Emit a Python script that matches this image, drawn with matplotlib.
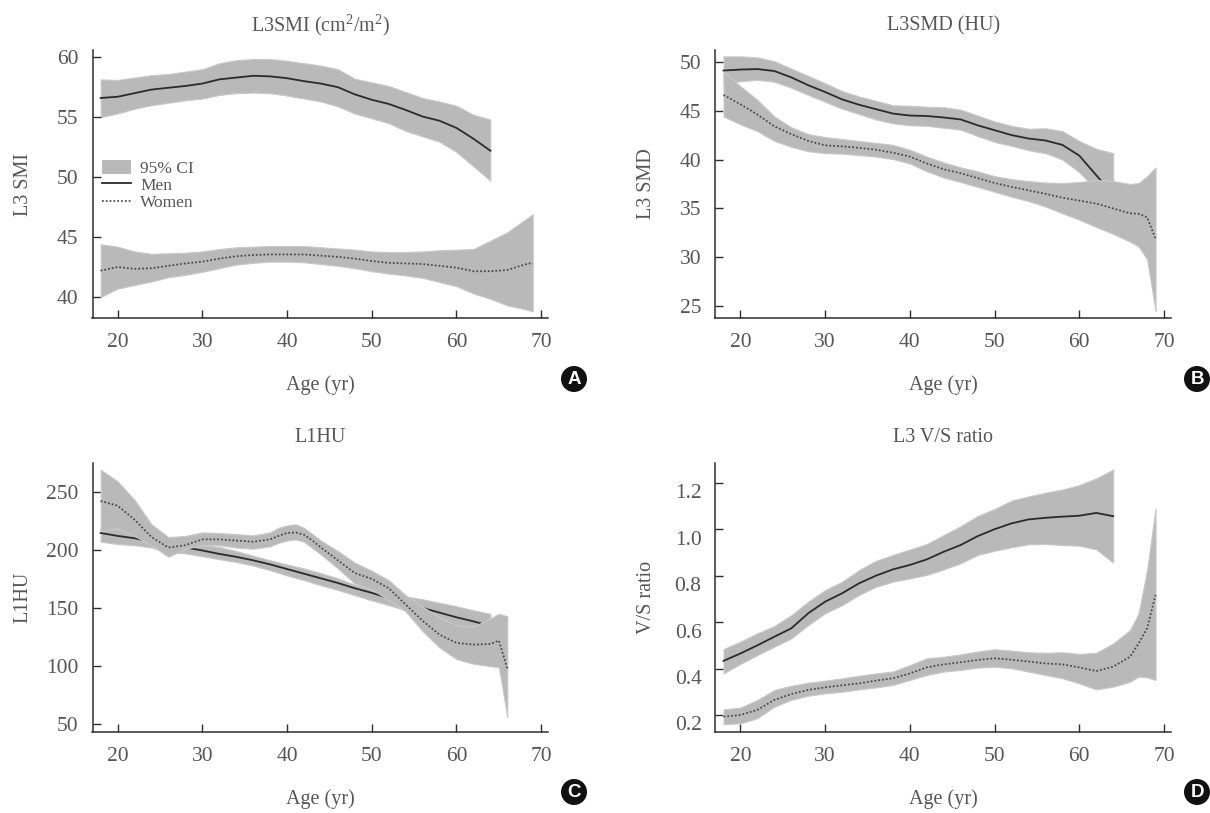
import matplotlib
matplotlib.use("Agg")
import matplotlib.pyplot as plt
from matplotlib.patches import Patch
from matplotlib.lines import Line2D
from matplotlib.transforms import ScaledTranslation

plt.rcParams['font.family'] = ['Liberation Serif', 'DejaVu Serif']

W, H = 1210, 813
BAND = '#b9b9b9'
EDGE = '#c9c9c9'
INK = '#565656'
AXC = '#2e2e2e'

# ages shared by the men's curves
age_men = [18, 20, 22, 24, 26, 28, 30, 32, 34, 36, 38, 40, 42, 44, 46, 48, 50, 52, 54, 56, 58, 60, 62, 64]

# A: L3SMI
a_age_w = [18, 20, 22, 24, 26, 28, 30, 32, 34, 36, 38, 40, 42, 44, 46, 48, 50, 52, 54, 56, 58, 60, 62, 64, 66, 68, 69]
a_men = [56.6, 56.7, 57.0, 57.3, 57.45, 57.6, 57.8, 58.15, 58.3, 58.45, 58.4, 58.25, 58.0, 57.8, 57.5, 56.9, 56.45, 56.1, 55.6, 55.05, 54.7, 54.1, 53.2, 52.2]
a_men_hi = [58.15, 58.1, 58.3, 58.5, 58.6, 58.8, 59.0, 59.5, 59.75, 59.85, 59.85, 59.7, 59.5, 59.3, 59.0, 58.2, 57.9, 57.6, 57.1, 56.6, 56.3, 55.95, 55.2, 54.8]
a_men_lo = [55.0, 55.3, 55.7, 56.0, 56.2, 56.4, 56.55, 56.85, 57.0, 57.05, 57.0, 56.8, 56.55, 56.3, 55.9, 55.3, 54.9, 54.5, 53.85, 53.4, 52.95, 52.1, 50.9, 49.7]
a_wom = [42.2, 42.5, 42.35, 42.4, 42.6, 42.8, 42.95, 43.2, 43.4, 43.5, 43.55, 43.55, 43.55, 43.45, 43.35, 43.2, 43.0, 42.85, 42.8, 42.75, 42.6, 42.45, 42.15, 42.15, 42.25, 42.7, 42.85]
a_wom_hi = [44.4, 44.2, 43.8, 43.6, 43.65, 43.7, 43.8, 44.0, 44.15, 44.2, 44.25, 44.25, 44.25, 44.15, 44.05, 43.95, 43.8, 43.75, 43.75, 43.8, 43.9, 43.95, 44.0, 44.7, 45.4, 46.4, 46.9]
a_wom_lo = [40.0, 40.7, 41.0, 41.3, 41.65, 41.85, 42.1, 42.4, 42.7, 42.85, 42.95, 42.95, 42.9, 42.75, 42.6, 42.4, 42.15, 41.95, 41.8, 41.6, 41.25, 40.9, 40.3, 39.85, 39.3, 39.0, 38.8]

# B: L3SMD
b_age_w = [18, 20, 22, 24, 26, 28, 30, 32, 34, 36, 38, 40, 42, 44, 46, 48, 50, 52, 54, 56, 58, 60, 62, 64, 66, 67, 68, 69]
b_men = [49.1, 49.2, 49.25, 49.05, 48.4, 47.6, 46.9, 46.15, 45.6, 45.15, 44.7, 44.5, 44.45, 44.3, 44.1, 43.5, 43.0, 42.5, 42.15, 41.95, 41.5, 40.4, 38.4, 36.4]
b_men_hi = [50.55, 50.55, 50.45, 50.05, 49.3, 48.55, 47.8, 47.0, 46.45, 46.0, 45.55, 45.5, 45.4, 45.35, 45.1, 44.5, 43.9, 43.45, 43.15, 43.2, 42.9, 41.9, 41.1, 40.65]
b_men_lo = [47.8, 48.0, 48.15, 47.95, 47.35, 46.6, 45.9, 45.2, 44.65, 44.1, 43.7, 43.5, 43.45, 43.25, 43.05, 42.4, 41.8, 41.4, 40.95, 40.65, 40.0, 38.7, 36.9, 35.5]
b_wom = [46.6, 45.65, 44.6, 43.4, 42.6, 41.9, 41.45, 41.35, 41.2, 41.0, 40.7, 40.3, 39.6, 39.0, 38.6, 38.1, 37.6, 37.2, 36.85, 36.5, 36.1, 35.8, 35.5, 35.0, 34.5, 34.45, 34.1, 31.9]
b_wom_hi = [49.0, 47.5, 46.1, 44.4, 43.3, 42.6, 42.3, 42.1, 41.9, 41.7, 41.5, 41.0, 40.3, 39.7, 39.2, 38.8, 38.3, 38.0, 37.8, 37.65, 37.6, 37.7, 37.9, 37.8, 37.5, 37.6, 38.3, 39.2]
b_wom_lo = [44.4, 43.6, 42.9, 41.9, 41.3, 40.85, 40.65, 40.6, 40.45, 40.3, 40.05, 39.6, 38.8, 38.15, 37.7, 37.2, 36.7, 36.2, 35.75, 35.2, 34.5, 33.85, 33.1, 32.4, 31.6, 31.1, 29.8, 24.5]

# C: L1HU
c_age_line = [18, 20, 22, 24, 26, 28, 30, 32, 34, 36, 38, 40, 42, 44, 46, 48, 50, 52, 54, 56, 58, 60, 62, 63]
c_age_w = [18, 20, 22, 24, 26, 28, 30, 32, 34, 36, 38, 39, 40, 41, 42, 43, 44, 46, 48, 50, 52, 54, 56, 58, 60, 62, 64, 65, 66]
c_men = [214.5, 212, 210, 207, 204, 202, 199.5, 196.5, 194, 191, 187.5, 183.5, 179.5, 175.5, 171.5, 167, 163, 158.5, 154, 150, 146, 142, 138.5, 136.5]
c_men_hi = [219, 218, 214, 208, 206, 206, 204, 202.5, 199, 195, 191, 187.5, 184, 180, 175.5, 170, 166, 163, 160, 157.5, 154.5, 151.5, 148, 145]
c_men_lo = [207, 205, 204, 202, 198, 197, 194.5, 192, 189.5, 186.5, 182.5, 178, 174, 169.5, 165.5, 161, 156.5, 152.5, 148, 143, 138, 134, 131, 128]
c_wom = [242, 238, 226, 211, 202, 204, 209, 209, 208, 207, 209, 212, 214.5, 215, 213, 208, 202, 191, 180, 175, 167, 153, 139, 127, 120, 118.5, 119, 122, 98]
c_wom_hi = [269, 259, 243, 222, 211, 212, 215, 214.5, 213.5, 212.5, 215, 219, 221, 222, 219, 213.5, 208, 199, 189, 182, 174, 161, 151, 142, 135, 134, 141, 145, 143]
c_wom_lo = [216, 218.5, 212, 204, 194, 201, 204, 204, 202, 201, 203, 206, 208, 209, 207, 201.5, 196, 184, 171, 166, 157, 147, 130, 116, 106, 102, 100, 99, 56]

# D: L3 V/S ratio
d_age_w = [18, 20, 22, 24, 26, 28, 30, 32, 34, 36, 38, 40, 42, 44, 46, 48, 50, 52, 54, 56, 58, 60, 62, 64, 66, 67, 68, 69]
d_men = [0.433, 0.465, 0.50, 0.537, 0.573, 0.638, 0.688, 0.724, 0.767, 0.80, 0.827, 0.846, 0.87, 0.903, 0.932, 0.97, 1.0, 1.025, 1.042, 1.049, 1.054, 1.058, 1.07, 1.056]
d_men_hi = [0.484, 0.516, 0.552, 0.583, 0.63, 0.688, 0.738, 0.774, 0.824, 0.864, 0.889, 0.913, 0.936, 0.975, 1.013, 1.057, 1.087, 1.123, 1.141, 1.157, 1.171, 1.19, 1.219, 1.257]
d_men_lo = [0.379, 0.42, 0.458, 0.494, 0.53, 0.587, 0.638, 0.673, 0.717, 0.752, 0.774, 0.788, 0.803, 0.827, 0.853, 0.889, 0.907, 0.922, 0.935, 0.936, 0.932, 0.929, 0.913, 0.856]
d_wom = [0.193, 0.2, 0.222, 0.265, 0.29, 0.308, 0.319, 0.328, 0.336, 0.348, 0.358, 0.379, 0.405, 0.418, 0.427, 0.437, 0.444, 0.438, 0.43, 0.422, 0.418, 0.405, 0.389, 0.408, 0.451, 0.508, 0.573, 0.717]
d_wom_hi = [0.224, 0.232, 0.265, 0.308, 0.326, 0.339, 0.348, 0.358, 0.369, 0.379, 0.387, 0.415, 0.444, 0.451, 0.461, 0.473, 0.483, 0.477, 0.47, 0.468, 0.47, 0.463, 0.468, 0.508, 0.566, 0.638, 0.824, 1.09]
d_wom_lo = [0.161, 0.164, 0.186, 0.236, 0.265, 0.283, 0.293, 0.30, 0.31, 0.319, 0.329, 0.351, 0.372, 0.387, 0.394, 0.404, 0.408, 0.401, 0.387, 0.372, 0.358, 0.336, 0.31, 0.322, 0.343, 0.365, 0.362, 0.351]

x_ticks = [20, 30, 40, 50, 60, 70]
a_ticks = [40, 45, 50, 55, 60]
b_ticks = [25, 30, 35, 40, 45, 50]
c_ticks = [50, 100, 150, 200, 250]
d_ticks = [0.2, 0.4, 0.6, 0.8, 1.0, 1.2]
d_labels = ['0.2', '0.4', '0.6', '0.8', '1.0', '1.2']


def make_axes(left, right, top, bottom):
    # pixel box to figure fractions
    return fig.add_axes([left / W, 1 - bottom / H, (right - left) / W, (bottom - top) / H])


def draw_panel(ax, title, ylabel, ylim, yticks, men_x, men, men_hi, men_lo, wom_x, wom, wom_hi, wom_lo, men_line_x=None, title_pad=13.7):
    if men_line_x is None:
        men_line_x = men_x
    ax.fill_between(men_x, men_lo, men_hi, facecolor=BAND, edgecolor=EDGE, lw=0.8, zorder=1)
    ax.plot(men_line_x, men, color='#2b2b2b', lw=1.3, zorder=2)
    ax.fill_between(wom_x, wom_lo, wom_hi, facecolor=BAND, edgecolor=EDGE, lw=0.8, zorder=3)
    ax.plot(wom_x, wom, color='#444444', lw=1.25, ls=(0, (1, 1.2)), zorder=4)

    ax.set_xlim(17.04, 70.8)
    ax.set_ylim(*ylim)
    ax.set_xticks(x_ticks)
    ax.set_yticks(yticks)
    ax.spines['top'].set_visible(False)
    ax.spines['right'].set_visible(False)
    for s in ['left', 'bottom']:
        ax.spines[s].set_color(AXC)
        ax.spines[s].set_linewidth(1.1)
    ax.tick_params(direction='in', length=5.5, width=1.0, color=AXC, labelcolor=INK, labelsize=15.5)
    ax.tick_params(axis='x', pad=11)
    ax.tick_params(axis='y', pad=10)
    ax.set_title(title, fontsize=14.5, color=INK, pad=title_pad)
    ax.set_xlabel('Age (yr)', fontsize=14.5, color=INK, va='center')
    ax.set_ylabel(ylabel, fontsize=14.5, color=INK, va='center')
    ax.xaxis.set_label_coords(0.5, -0.25)
    ax.yaxis.set_label_coords(-0.152, 0.5)


fig = plt.figure(figsize=(W / 100, H / 100), dpi=100)

ax_a = make_axes(92.5, 548, 50, 318)
draw_panel(ax_a, 'L3SMI (cm$\\mathregular{^2}$/m$\\mathregular{^2}$)', 'L3 SMI', (38.25, 60.6), a_ticks,
           age_men, a_men, a_men_hi, a_men_lo, a_age_w, a_wom, a_wom_hi, a_wom_lo)

ax_b = make_axes(715.4, 1170.8, 50, 318)
draw_panel(ax_b, 'L3SMD (HU)', 'L3 SMD', (23.8, 51.2), b_ticks,
           age_men, b_men, b_men_hi, b_men_lo, b_age_w, b_wom, b_wom_hi, b_wom_lo)

ax_c = make_axes(92.5, 548, 463, 731.7)
draw_panel(ax_c, 'L1HU', 'L1HU', (43.6, 274.7), c_ticks,
           age_men, c_men, c_men_hi, c_men_lo, c_age_w, c_wom, c_wom_hi, c_wom_lo, men_line_x=c_age_line, title_pad=15.2)

ax_d = make_axes(715.4, 1170.8, 463, 731.7)
draw_panel(ax_d, 'L3 V/S ratio', 'V/S ratio', (0.128, 1.285), d_ticks,
           age_men, d_men, d_men_hi, d_men_lo, d_age_w, d_wom, d_wom_hi, d_wom_lo, title_pad=15.2)
ax_d.set_yticklabels(d_labels)
# the y labels sit a bit under their ticks in this panel
shift = ScaledTranslation(0, -8.5 / 100, fig.dpi_scale_trans)
for lab in ax_d.get_yticklabels():
    lab.set_transform(lab.get_transform() + shift)

handles = [Patch(facecolor=BAND, edgecolor='none'),
           Line2D([], [], color='#2b2b2b', lw=1.3),
           Line2D([], [], color='#444444', lw=1.25, ls=(0, (1, 1.2)))]
ax_a.legend(handles, ['95% CI', 'Men', 'Women'], loc='upper left', bbox_to_anchor=(-0.009, 0.643),
            frameon=False, fontsize=12.5, labelcolor=INK, handlelength=1.67, handleheight=0.9,
            handletextpad=0.5, labelspacing=0.0, borderpad=0.35, borderaxespad=0.45)

# panel letters
for letter, px, py in [('A', 574, 379), ('B', 1197, 379), ('C', 574, 792), ('D', 1197, 792)]:
    fig.text(px / W, 1 - py / H, letter, family='Liberation Sans', fontweight='bold', fontsize=13.5,
             color='white', ha='center', va='center',
             bbox=dict(boxstyle='circle,pad=0.24', fc='#111111', ec='none'))

fig.savefig('out.png', dpi=100)
